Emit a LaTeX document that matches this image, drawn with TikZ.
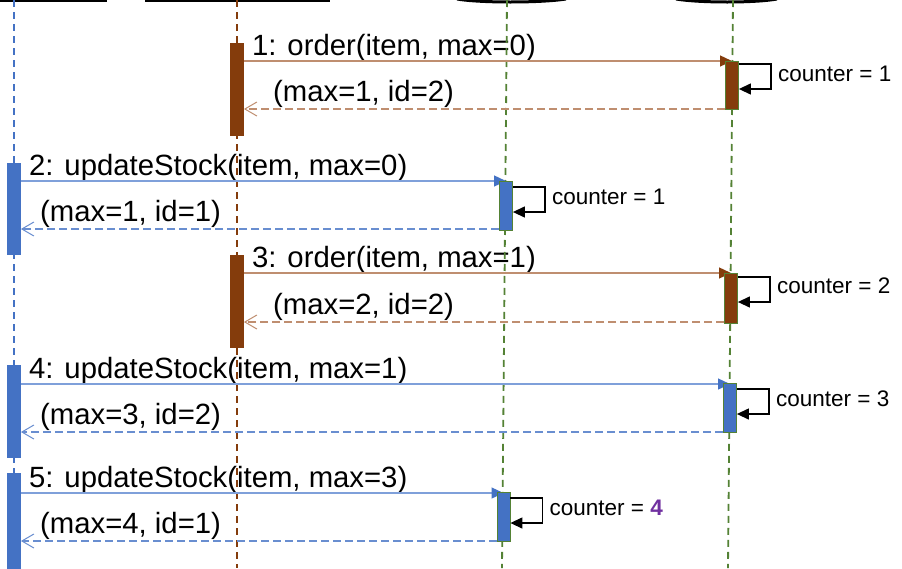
\documentclass[tikz,border=0pt]{standalone}
\usepackage{fontspec}
\setmainfont{Liberation Sans}
\usetikzlibrary{arrows.meta}
\definecolor{brownD}{HTML}{843C0C}
\definecolor{brownL}{HTML}{BF8E70}
\definecolor{blueD}{HTML}{4472C4}
\definecolor{blueL}{HTML}{7FA0DA}
\definecolor{greenD}{HTML}{548235}
\definecolor{purp}{HTML}{7030A0}
\tikzset{
  lifeline/.style={dash pattern=on 7pt off 5pt, line width=1.8pt},
  barnode/.style={rectangle, minimum width=13pt, inner sep=0pt, anchor=north, line width=0.8pt},
  brbar/.style={barnode, draw=brownD, fill=brownD},
  blbar/.style={barnode, draw=blueD, fill=blueD},
  gbrbar/.style={barnode, draw=greenD, fill=brownD},
  gblbar/.style={barnode, draw=greenD, fill=blueD},
  callbr/.style={draw=brownL, line width=1.3pt, -{Triangle[length=12pt,width=11pt,color=brownD]}},
  callbl/.style={draw=blueL, line width=1.3pt, -{Triangle[length=12pt,width=11pt,color=blueD]}},
  retbr/.style={draw=brownL, line width=1.2pt, dash pattern=on 8pt off 4pt, -{Straight Barb[length=12pt,width=14pt,line width=1pt]}},
  retbl/.style={draw=blueD!80!white, line width=1.2pt, dash pattern=on 8pt off 4pt, -{Straight Barb[length=12pt,width=14pt,line width=1pt]}},
  selfloop/.style={draw=black, line width=1.3pt, -{Triangle[length=12pt,width=11pt]}},
  msglabel/.style={anchor=base west, inner sep=0pt, font=\fontsize{29.3}{34}\selectfont},
  cntlabel/.style={anchor=base west, inner sep=0pt, font=\fontsize{22.5}{26}\selectfont},
}
\begin{document}
\begin{tikzpicture}[x=1pt,y=-1pt]
\useasboundingbox (0,0) rectangle (902,568);
\fill[white] (0,0) rectangle (902,568);

% top remnants
\draw[line width=2pt] (0,1) -- (107,1);
\draw[line width=2pt] (145,1) -- (330,1);
\draw[line width=3pt] (457,-1) .. controls (480,3) and (540,3) .. (566,-1);
\draw[line width=3pt] (676,-1) .. controls (700,3) and (755,3) .. (777,-1);

% labels (under lifelines)
\node[msglabel] (l1) at (252,55) {1: order(item, max=0)};
\node[msglabel] (r1) at (273,101) {(max=1, id=2)};
\node[msglabel] (l2) at (29,175) {2: updateStock(item, max=0)};
\node[msglabel] (r2) at (40,221) {(max=1, id=1)};
\node[msglabel] (l3) at (252,267) {3: order(item, max=1)};
\node[msglabel] (r3) at (273,314) {(max=2, id=2)};
\node[msglabel] (l4) at (29,378) {4: updateStock(item, max=1)};
\node[msglabel] (r4) at (40,424) {(max=3, id=2)};
\node[msglabel] (l5) at (29,487) {5: updateStock(item, max=3)};
\node[msglabel] (r5) at (40,533) {(max=4, id=1)};

% lifelines
\coordinate (ll1t) at (14,0);   \coordinate (ll1b) at (14,568);
\coordinate (ll2t) at (237,0);  \coordinate (ll2b) at (237,568);
\coordinate (ll3t) at (507,0);  \coordinate (ll3b) at (502,568);
\coordinate (ll4t) at (733,0);  \coordinate (ll4b) at (728,568);
\draw[lifeline, draw=blueD] (ll1t) -- (ll1b);
\draw[lifeline, draw=brownD] (ll2t) -- (ll2b);
\draw[lifeline, draw=greenD] (ll3t) -- (ll3b);
\draw[lifeline, draw=greenD] (ll4t) -- (ll4b);

% activation bar positions (coordinates first, drawn after messages)
\coordinate (pbr1) at (237,43);
\coordinate (pg2a) at (732,61);
\coordinate (pbl1) at (14,163);
\coordinate (pg1a) at (506,181);
\coordinate (pbr2) at (237,255);
\coordinate (pg2b) at (731,273);
\coordinate (pbl2) at (14,365);
\coordinate (pg2c) at (730,383);
\coordinate (pbl3) at (14,473);
\coordinate (pg1b) at (503.5,492);

% call messages (tips end under the callee bar)
\draw[callbr] (pbr1 |- 0,61) -- (pg2a |- 0,61);
\draw[callbl] (pbl1 |- 0,181) -- (pg1a |- 0,181);
\draw[callbr] (pbr2 |- 0,273) -- (pg2b |- 0,273);
\draw[callbl] (pbl2 |- 0,384) -- (pg2c |- 0,384);
\draw[callbl] (pbl3 |- 0,493) -- (pg1b |- 0,493);

% activation bars
\node[brbar, minimum height=92pt] (br1) at (pbr1) {};
\node[gbrbar, minimum height=48pt] (g2a) at (pg2a) {};
\node[blbar, minimum height=91pt] (bl1) at (pbl1) {};
\node[gblbar, minimum height=49pt] (g1a) at (pg1a) {};
\node[brbar, minimum height=92pt] (br2) at (pbr2) {};
\node[gbrbar, minimum height=50pt] (g2b) at (pg2b) {};
\node[blbar, minimum height=92pt] (bl2) at (pbl2) {};
\node[gblbar, minimum height=49pt] (g2c) at (pg2c) {};
\node[blbar, minimum height=100pt] (bl3) at (pbl3) {};
\node[gblbar, minimum height=49pt] (g1b) at (pg1b) {};

% return messages
\draw[retbr] (g2a.west |- 0,109) -- (br1.east |- 0,109);
\draw[retbl] (g1a.west |- 0,229) -- (bl1.east |- 0,229);
\draw[retbr] (g2b.west |- 0,322) -- (br2.east |- 0,322);
\draw[retbl] (g2c.west |- 0,432) -- (bl2.east |- 0,432);
\draw[retbl] (g1b.west |- 0,541) -- (bl3.east |- 0,541);

% self loops
\draw[selfloop] (g2a.east |- 0,64) -- ++(32,0) -- ++(0,25) -- (g2a.east |- 0,89);
\draw[selfloop] (g1a.east |- 0,187) -- ++(32,0) -- ++(0,25) -- (g1a.east |- 0,212);
\draw[selfloop] (g2b.east |- 0,277) -- ++(32,0) -- ++(0,25) -- (g2b.east |- 0,302);
\draw[selfloop] (g2c.east |- 0,389) -- ++(32,0) -- ++(0,25) -- (g2c.east |- 0,414);
\draw[selfloop] (g1b.east |- 0,498) -- ++(32,0) -- ++(0,25) -- (g1b.east |- 0,523);

% counters
\node[cntlabel] (c1) at ([xshift=39pt]g2a.east |- 0,81) {counter = 1};
\node[cntlabel] (c2) at ([xshift=39pt]g1a.east |- 0,204) {counter = 1};
\node[cntlabel] (c3) at ([xshift=39pt]g2b.east |- 0,293) {counter = 2};
\node[cntlabel] (c4) at ([xshift=39pt]g2c.east |- 0,406) {counter = 3};
\node[cntlabel] (c5) at ([xshift=39pt]g1b.east |- 0,515) {counter = \textcolor{purp}{\bfseries 4}};
\end{tikzpicture}
\end{document}
